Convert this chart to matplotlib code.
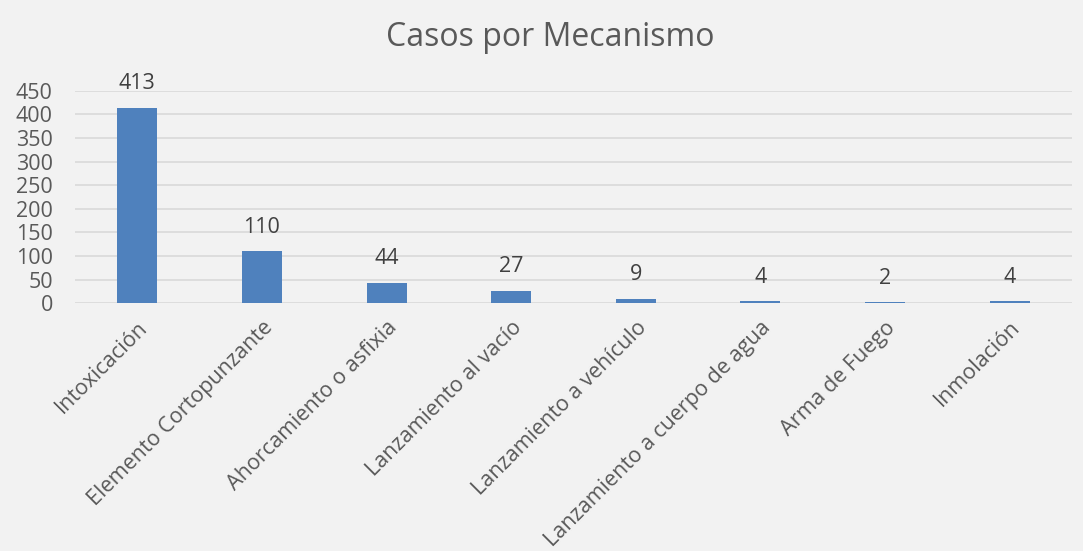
import matplotlib
matplotlib.use("Agg")
import matplotlib.pyplot as plt

categories = ["Intoxicación", "Elemento Cortopunzante", "Ahorcamiento o asfixia",
              "Lanzamiento al vacío", "Lanzamiento a vehículo",
              "Lanzamiento a cuerpo de agua", "Arma de Fuego", "Inmolación"]
values = [413, 110, 44, 27, 9, 4, 2, 4]
yticks = [0, 50, 100, 150, 200, 250, 300, 350, 400, 450]
title = "Casos por Mecanismo"

plt.rcParams['font.family'] = ['Open Sans', 'DejaVu Sans']
W, H = 1083, 551
fig = plt.figure(figsize=(W/100, H/100), dpi=100)
fig.patch.set_facecolor('#F2F2F2')
left, right, top, bottom = 75, 1072, 90.7, 303.3
ax = fig.add_axes([left/W, 1-bottom/H, (right-left)/W, (bottom-top)/H])
ax.set_facecolor('#F2F2F2')

txt = '#595959'
x = range(len(categories))
ax.bar(x, values, width=0.32, color='#4F81BD', zorder=3)
ax.set_xlim(-0.5, len(categories)-0.5)
ax.set_ylim(0, 450)
ax.set_yticks(yticks)
ax.yaxis.grid(True, color='#D9D9D9', linewidth=1.2, zorder=0)
for s in ax.spines.values():
    s.set_visible(False)
ax.tick_params(axis='both', length=0, colors=txt, labelsize=15.5)
ax.tick_params(axis='y', pad=16)
ax.set_xticks(list(x))
ax.set_xticklabels(categories, rotation=45, ha='right', rotation_mode='anchor', fontsize=15.5, color=txt)
ax.tick_params(axis='x', pad=10)
for xi, v in zip(x, values):
    ax.annotate(str(v), (xi, v), xytext=(0, 17.5), textcoords='offset points',
                ha='center', va='center', fontsize=15.5, color='#404040')
fig.text(550/W, 1-38/H, title, ha='center', va='center', fontsize=23, color=txt)
fig.savefig('out.png', dpi=100, facecolor=fig.get_facecolor())
